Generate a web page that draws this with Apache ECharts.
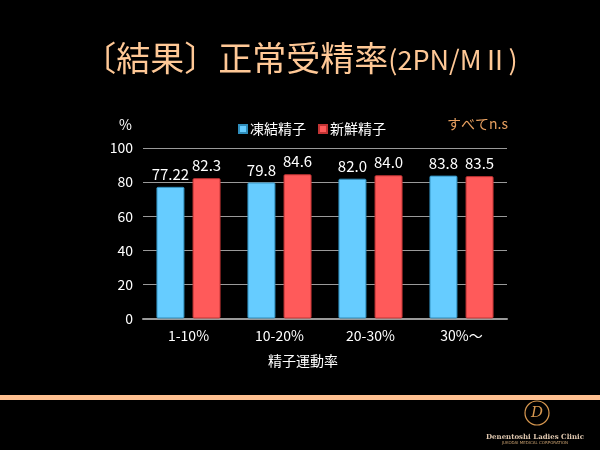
<!DOCTYPE html>
<html><head><meta charset="utf-8">
<script src="https://cdn.jsdelivr.net/npm/echarts@6/dist/echarts.min.js"></script>
<style>html,body{margin:0;padding:0;background:#000;}#c{width:600px;height:450px;}</style>
</head><body><div id="c"></div>
<script>
const categories = ['1-10%', '10-20%', '20-30%', '30%～'];
const frozenValues = [77.22, 79.8, 82.0, 83.8];
const frozenLabels = ['77.22', '79.8', '82.0', '83.8'];
const freshValues = [82.3, 84.6, 84.0, 83.5];
const freshLabels = ['82.3', '84.6', '84.0', '83.5'];
const seriesNames = ['凍結精子', '新鮮精子'];
const yTicks = [0, 20, 40, 60, 80, 100];

const chart = echarts.init(document.getElementById('c'));
const jp = '"Noto Sans CJK JP", sans-serif';
function labelFn(labels){ return p => labels[p.dataIndex]; }
chart.setOption({
  backgroundColor: '#000',
  animation: false,
  title: {
    text: '{a|〔結果〕正常受精率}{b|(2PN/MⅡ)}',
    left: 'center', top: 36,
    textStyle: {
      fontWeight: 'normal',
      rich: {
        a: {fontSize: 34, color: '#FFC896', fontFamily: jp, fontWeight: 'normal'},
        b: {fontSize: 27, color: '#FFC896', fontFamily: jp, fontWeight: 'normal', padding: [4,0,0,0]}
      }
    }
  },
  legend: {
    data: seriesNames, top: 117, left: 233,
    itemWidth: 8, itemHeight: 8, itemGap: 12, icon: 'rect',
    textStyle: {color: '#fff', fontSize: 14, fontFamily: jp, padding: [0,0,0,-2]}
  },
  grid: {left: 143, right: 93, top: 148, bottom: 131.5, containLabel: false},
  xAxis: {
    type: 'category', data: categories,
    axisLine: {lineStyle: {color: '#9a9a9a', width: 2}},
    axisTick: {show: false},
    axisLabel: {color: '#fff', fontSize: 14, fontFamily: jp, margin: 10}
  },
  yAxis: {
    type: 'value', min: yTicks[0], max: yTicks[yTicks.length-1], interval: 20,
    axisLine: {show: false}, axisTick: {show: false},
    axisLabel: {color: '#fff', fontSize: 14, fontFamily: jp, margin: 10},
    splitLine: {lineStyle: {color: '#9a9a9a', width: 1}}
  },
  series: [
    {
      name: seriesNames[0], type: 'bar', data: frozenValues,
      barWidth: 28, barGap: '29%',
      itemStyle: {color: '#66CCFF', borderColor: '#2F8DBB', borderWidth: 1, borderRadius: 1},
      label: {show: true, position: 'top', distance: 5, color: '#fff', fontSize: 15, fontFamily: jp, formatter: labelFn(frozenLabels)}
    },
    {
      name: seriesNames[1], type: 'bar', data: freshValues,
      barWidth: 28,
      itemStyle: {color: '#FF5A5A', borderColor: '#C23434', borderWidth: 1, borderRadius: 1},
      label: {show: true, position: 'top', distance: 5, color: '#fff', fontSize: 15, fontFamily: jp, formatter: labelFn(freshLabels)}
    }
  ],
  graphic: [
    {type: 'text', left: 119, top: 118, style: {text: '%', fill: '#fff', fontSize: 14, fontFamily: jp}},
    {type: 'text', left: 447, top: 117, style: {text: 'すべてn.s', fill: '#E8A060', fontSize: 14, fontFamily: jp}},
    {type: 'text', left: 268, top: 354, style: {text: '精子運動率', fill: '#fff', fontSize: 14, fontFamily: jp}},
    {type: 'rect', left: 0, top: 395, shape: {width: 600, height: 5}, style: {fill: '#FFC090'}},
    {type: 'circle', shape: {cx: 537, cy: 413, r: 12}, style: {fill: 'none', stroke: '#D89850', lineWidth: 1.2}},
    {type: 'text', x: 537, y: 413, style: {text: 'D', fill: '#D89850', fontSize: 15, fontFamily: 'DejaVu Serif', fontStyle: 'italic', align: 'center', verticalAlign: 'middle'}},
    {type: 'text', x: 535, y: 437, style: {text: 'Denentoshi Ladies Clinic', fill: '#E0C8B0', fontSize: 7, fontFamily: 'DejaVu Serif', fontWeight: 'bold', align: 'center', verticalAlign: 'middle'}},
    {type: 'text', x: 535, y: 443, style: {text: 'JUKODAI MEDICAL CORPORATION', fill: '#C8A070', fontSize: 4, fontFamily: 'DejaVu Sans', align: 'center', verticalAlign: 'middle'}}
  ]
});
</script></body></html>
